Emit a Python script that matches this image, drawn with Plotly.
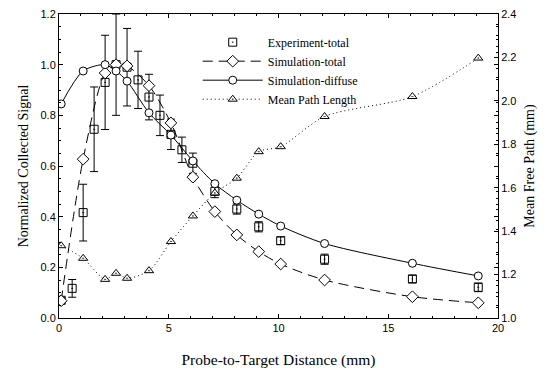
import plotly.graph_objects as go

# Experiment-total
exp_x = [0.1, 0.6, 1.1, 1.6, 2.1, 2.6, 3.1, 3.6, 4.1, 4.6, 5.1, 5.6, 6.1, 7.1, 8.1, 9.1, 10.1, 12.1, 16.1, 19.1]
exp_y = [0.07, 0.117, 0.416, 0.745, 0.93, 1.0, 0.99, 0.94, 0.872, 0.80, 0.725, 0.664, 0.611, 0.50, 0.43, 0.36, 0.305, 0.232, 0.154, 0.121]
exp_err = [0.01, 0.035, 0.112, 0.167, 0.186, 0.2, 0.153, 0.113, 0.09, 0.08, 0.06, 0.05, 0.04, 0.025, 0.02, 0.02, 0.015, 0.02, 0.015, 0.017]

# Simulations
sim_x = [0.1, 1.1, 2.1, 2.6, 3.1, 4.1, 5.1, 6.1, 7.1, 8.1, 9.1, 10.1, 12.1, 16.1, 19.1]
sim_total = [0.068, 0.627, 0.967, 1.0, 0.995, 0.917, 0.77, 0.556, 0.42, 0.328, 0.262, 0.213, 0.15, 0.084, 0.06]
sim_diffuse = [0.845, 0.975, 1.0, 0.975, 0.935, 0.81, 0.722, 0.62, 0.53, 0.465, 0.41, 0.363, 0.294, 0.216, 0.166]
mean_path = [1.333, 1.275, 1.178, 1.206, 1.183, 1.218, 1.352, 1.47, 1.576, 1.644, 1.766, 1.789, 1.928, 2.02, 2.197]

serif = "Liberation Serif, Times New Roman, serif"
sans = "Liberation Sans, Arial, sans-serif"

fig = go.Figure()
fig.add_trace(go.Scatter(
    x=exp_x, y=exp_y, mode="markers", name="Experiment-total",
    marker=dict(symbol="square-open-dot", size=8, color="black", line=dict(width=1, color="black")),
    error_y=dict(type="data", array=exp_err, visible=True, color="black", thickness=1, width=4),
))
fig.add_trace(go.Scatter(
    x=sim_x, y=sim_total, mode="lines+markers", name="Simulation-total",
    line=dict(color="black", width=1, dash="10px,6px", shape="spline", smoothing=0.8),
    marker=dict(symbol="diamond", size=9, color="white", line=dict(width=1, color="black")),
))
fig.add_trace(go.Scatter(
    x=sim_x, y=sim_diffuse, mode="lines+markers", name="Simulation-diffuse",
    line=dict(color="black", width=1, shape="spline", smoothing=0.8),
    marker=dict(symbol="circle", size=8, color="white", line=dict(width=1, color="black")),
))
fig.add_trace(go.Scatter(
    x=sim_x, y=mean_path, mode="lines+markers", name="Mean Path Length", yaxis="y2",
    line=dict(color="black", width=1, dash="1px,3px", shape="spline", smoothing=0.8),
    marker=dict(symbol="triangle-up-dot", size=8, color="white", line=dict(width=1, color="black")),
))

axis_common = dict(
    showline=True, linecolor="black", linewidth=1, ticks="inside", ticklen=4,
    tickcolor="black", showgrid=False, zeroline=False, automargin=False,
    ticklabeloverflow="allow",
    tickfont=dict(family=sans, size=11, color="black"),
)

fig.update_layout(
    width=547, height=368,
    margin=dict(l=51, r=57, t=6, b=58, autoexpand=False),
    paper_bgcolor="white", plot_bgcolor="white",
    showlegend=True,
    legend=dict(
        x=0.316, y=0.955, xanchor="left", yanchor="top",
        font=dict(family=serif, size=12, color="black"),
        bgcolor="rgba(0,0,0,0)", itemwidth=60, tracegroupgap=0,
    ),
    xaxis=dict(
        range=[0, 20], dtick=5, mirror="ticks",
        minor=dict(dtick=1, ticks="inside", ticklen=2, tickcolor="black"),
        title=dict(text="Probe-to-Target Distance (mm)", font=dict(family=serif, size=15.5, color="black"), standoff=20),
        **axis_common,
    ),
    yaxis=dict(
        range=[0, 1.2], dtick=0.2, tickformat=".1f", mirror="ticks",
        minor=dict(dtick=0.05, ticks="inside", ticklen=2, tickcolor="black"),
        title=dict(text="Normalized Collected Signal", font=dict(family=serif, size=14, color="black"), standoff=8),
        **axis_common,
    ),
    yaxis2=dict(
        range=[1.0, 2.4], dtick=0.2, tickformat=".1f", overlaying="y", side="right",
        minor=dict(dtick=0.05, ticks="inside", ticklen=2, tickcolor="black"),
        title=dict(text="Mean Free Path (mm)", font=dict(family=serif, size=14, color="black"), standoff=8),
        **axis_common,
    ),
)

fig.write_html("out.html")
